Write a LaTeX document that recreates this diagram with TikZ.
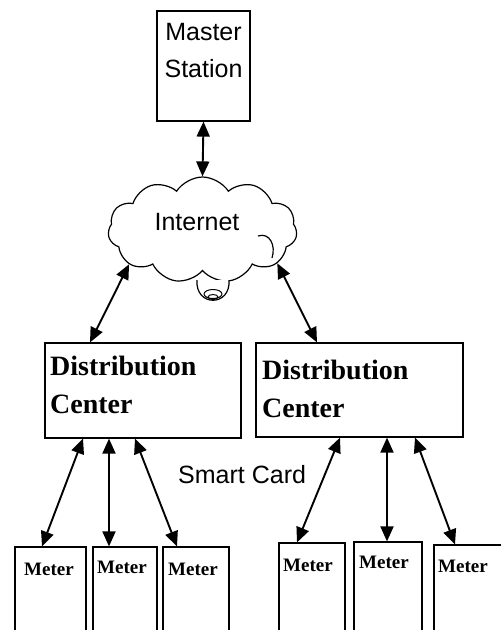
\documentclass[tikz,border=0pt]{standalone}
\usepackage{fontspec}
\setmainfont{Liberation Serif}
\setsansfont{Liberation Sans}
\usetikzlibrary{arrows.meta,shapes.symbols}

\begin{document}
\begin{tikzpicture}[x=1pt, y=-1pt,
        box/.style={rectangle, draw, line width=1.2pt, inner sep=0pt},
        sanslabel/.style={font=\sffamily\fontsize{25}{37}\selectfont, align=center, inner sep=0pt},
        centerlabel/.style={font=\bfseries\fontsize{28}{38}\selectfont, align=left, inner sep=0pt, anchor=base west},
        meterlabel/.style={font=\bfseries\fontsize{19}{20}\selectfont, inner sep=0pt, anchor=base west},
        link/.style={{Triangle[length=15pt,width=13pt]}-{Triangle[length=15pt,width=13pt]}, line width=1.9pt}
    ]

    % Frame of the picture
    \useasboundingbox (0,0) rectangle (501,630);
    \clip (0,0) rectangle (501,630);

    % Master station
    \node[box, minimum width=93pt, minimum height=110pt] (master) at (203.5,66) {};
    \node[sanslabel, anchor=base] (master_txt) at (203.5,77) {Master\\Station};

    % Internet cloud
    \node[cloud, draw, line width=1.2pt, cloud puffs=11, cloud puff arc=115, aspect=1.8,
          minimum width=189pt, minimum height=106pt, inner sep=0pt] (inet) at (202.5,230) {};
    \node[sanslabel, anchor=base] (inet_txt) at (197,230) {Internet};
    \draw[line width=1.2pt] (258,236) .. controls (270,232) and (276,246) .. (272,258);
    % little bulb under the cloud
    \draw[line width=1.2pt, fill=white] (197,280) .. controls (195,307) and (231,307) .. (229,280);
    \draw[line width=1pt] (213,294) ellipse (9pt and 4.5pt);
    \draw[line width=1pt] (213,297) ellipse (5pt and 2.5pt);

    % Distribution centers
    \node[box, minimum width=196pt, minimum height=95pt] (dc_left) at (143,390.5) {};
    \node[centerlabel] (dc_left_txt) at (50,413) {Distribution\\Center};
    \node[box, minimum width=207pt, minimum height=94pt] (dc_right) at (359.5,390) {};
    \node[centerlabel] (dc_right_txt) at (262,417) {Distribution\\Center};

    % Smart card label
    \node[sanslabel, anchor=base west] (card) at (178,483) {Smart Card};

    % Meters left
    \node[box, minimum width=71pt, minimum height=93pt] (m1) at (50.5,593.5) {};
    \node[box, minimum width=64pt, minimum height=93pt] (m2) at (125,593.5) {};
    \node[box, minimum width=66pt, minimum height=93pt] (m3) at (196,593.5) {};
    \node[meterlabel] (m1_txt) at (24,575) {Meter};
    \node[meterlabel] (m2_txt) at (97,573) {Meter};
    \node[meterlabel] (m3_txt) at (168,575) {Meter};

    % Meters right
    \node[box, minimum width=66pt, minimum height=97pt] (m4) at (312,591.5) {};
    \node[box, minimum width=68pt, minimum height=98pt] (m5) at (388,591) {};
    \node[box, minimum width=71pt, minimum height=95pt] (m6) at (469.5,592.5) {};
    \node[meterlabel] (m4_txt) at (283,571) {Meter};
    \node[meterlabel] (m5_txt) at (359,568) {Meter};
    \node[meterlabel] (m6_txt) at (438,572) {Meter};

    % Links to the cloud
    \draw[link] (master.south) -- (inet.north);
    \draw[link] (inet.205) -- ([xshift=-53pt]dc_left.north);
    \draw[link] (inet.336) -- ([xshift=-42.5pt]dc_right.north);

    % Links to the meters
    \draw[link] ([xshift=-60pt]dc_left.south) -- ([xshift=-8.5pt]m1.north);
    \draw[link] ([xshift=-34pt]dc_left.south) -- ([xshift=-16pt]m2.north);
    \draw[link] ([xshift=-8pt]dc_left.south) -- ([xshift=-19pt]m3.north);
    \draw[link] ([xshift=-19.5pt]dc_right.south) -- ([xshift=-15pt]m4.north);
    \draw[link] ([xshift=27.5pt]dc_right.south) -- ([xshift=-1pt]m5.north);
    \draw[link] ([xshift=55.5pt]dc_right.south) -- ([xshift=-14.5pt]m6.north);

\end{tikzpicture}
\end{document}
